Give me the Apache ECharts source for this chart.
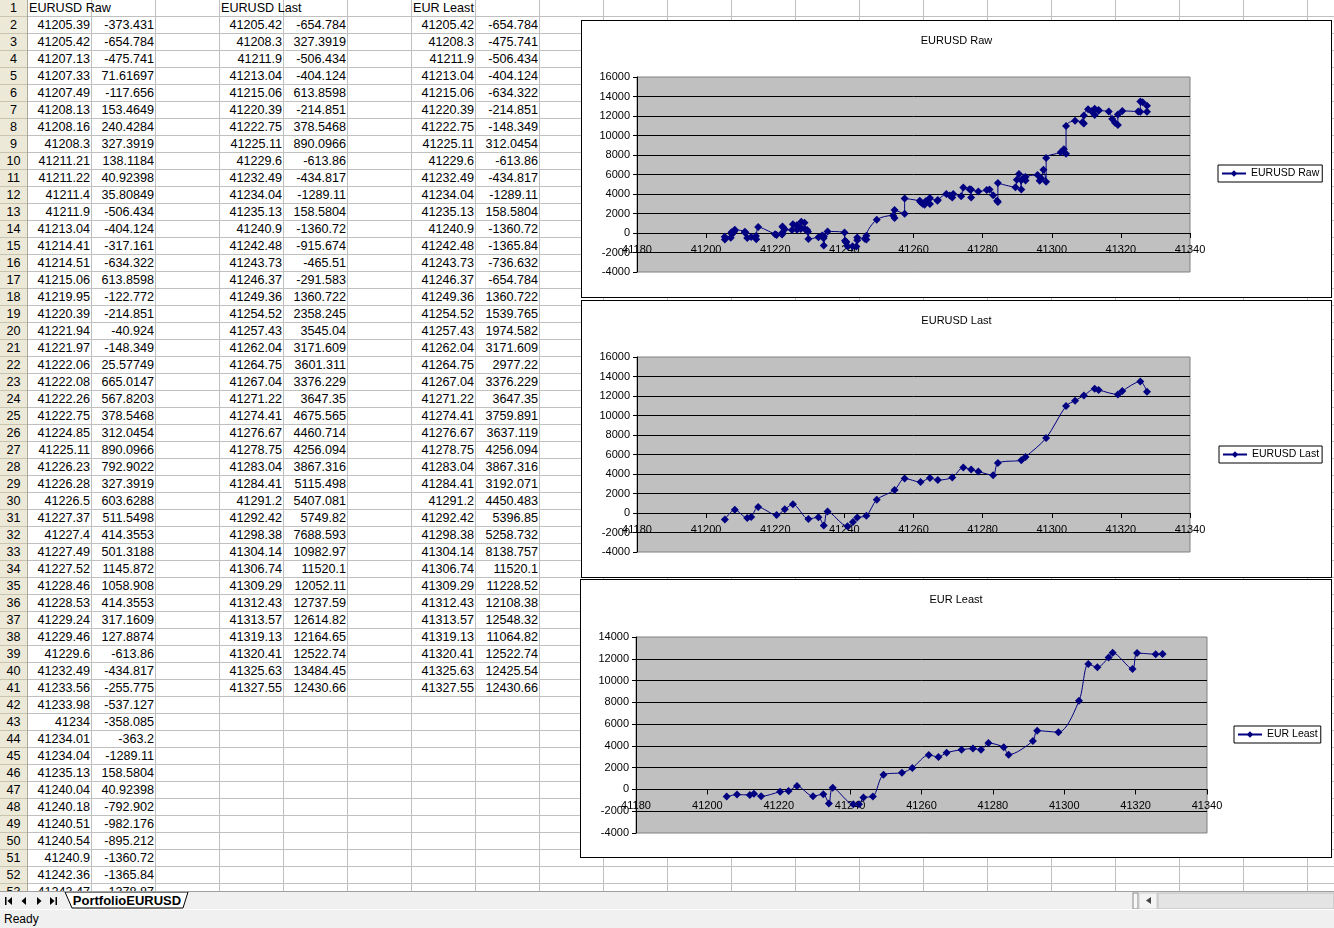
<!DOCTYPE html>
<html>
<head>
<meta charset="utf-8">
<script src="https://cdn.jsdelivr.net/npm/echarts@6.0.0/dist/echarts.min.js"></script>
<style>
  html, body { margin:0; padding:0; width:1334px; height:928px; overflow:hidden; background:#fff;
    font-family:'Liberation Sans', Arial, sans-serif; }
  #sheet { position:absolute; left:0; top:0; width:1334px; height:891px; overflow:hidden; }
  .vl { position:absolute; top:0; width:1px; height:891px; background:#c0c0c0; }
  .hl { position:absolute; left:0; width:1334px; height:1px; background:#c0c0c0; }
  .rh { position:absolute; left:0; width:27px; height:17px; background:#ece9d8; color:#000;
    font-size:12.6px; line-height:17px; text-align:center; }
  .cell { position:absolute; height:17px; line-height:17px; font-size:12.6px; color:#000; white-space:nowrap; }
  .num { text-align:right; width:62px; }
  .chartbox { position:absolute; background:#fff; border:1px solid #000; box-sizing:border-box; }
  .chart { position:absolute; left:0; top:0; width:100%; height:100%; }
  #tabbar { position:absolute; left:0; top:891px; width:1334px; height:18px; background:#f0f0f0; border-top:1px solid #a0a0a0; }
  #status { position:absolute; left:0; top:909px; width:1334px; height:19px; background:#f0f0f0; border-top:1px solid #fff; }
</style>
</head>
<body>
<div id="sheet"></div>
<div class="chartbox" style="left:581px;top:20px;width:751px;height:278px;"><div id="c1" class="chart"></div></div>
<div class="chartbox" style="left:581px;top:300px;width:751px;height:278px;"><div id="c2" class="chart"></div></div>
<div class="chartbox" style="left:580px;top:579px;width:752px;height:279px;"><div id="c3" class="chart"></div></div>
<div id="tabbar">
  <svg width="1334" height="18" style="position:absolute;left:0;top:0">
    <g fill="#000">
      <rect x="5" y="5" width="1.5" height="8"/><polygon points="12,5 12,13 7.5,9"/>
      <polygon points="26,5 26,13 21.5,9"/>
      <polygon points="37,5 37,13 41.5,9"/>
      <polygon points="50,5 50,13 54.5,9"/><rect x="55.5" y="5" width="1.5" height="8"/>
    </g>
    <polygon points="65,0 188,0 183,16 72,16" fill="#fff" stroke="#000" stroke-width="1"/>
    <text x="127" y="13" text-anchor="middle" font-family="Liberation Sans, Arial" font-size="13" font-weight="bold" fill="#000">PortfolioEURUSD</text>
    <rect x="1133" y="1" width="5" height="16" fill="#f7f7f7" stroke="#888"/>
    <rect x="1139" y="1" width="18" height="16" fill="#f4f4f4" stroke="#ccc"/>
    <polygon points="1151,5 1151,12 1146,8.5" fill="#444"/>
    <rect x="1158" y="1" width="176" height="16" fill="#e4e4e4" stroke="#bbb"/>
  </svg>
</div>
<div id="status"><span style="position:absolute;left:4px;top:2px;font-size:12px;color:#000;">Ready</span></div>

<script>
// ---------------- DATA ----------------
const rawX = [41205.39,41205.42,41207.13,41207.33,41207.49,41208.13,41208.16,41208.3,41211.21,41211.22,
  41211.4,41211.9,41213.04,41214.41,41214.51,41215.06,41219.95,41220.39,41221.94,41221.97,
  41222.06,41222.08,41222.26,41222.75,41224.85,41225.11,41226.23,41226.28,41226.5,41227.37,
  41227.4,41227.49,41227.52,41228.46,41228.53,41229.24,41229.46,41229.6,41232.49,41233.56,
  41233.98,41234,41234.01,41234.04,41235.13,41240.04,41240.18,41240.51,41240.54,41240.9,
  41242.36,41243.47,
  41243.73,41243.73,41245.9,41246.37,41246.37,41249.36,41254.1,41254.52,41254.52,41257.43,
  41257.43,41261.8,41262.04,41262.6,41263.2,41263.5,41264.3,41264.75,41264.75,41266.9,
  41267.04,41269.5,41270.5,41271.22,41271.5,41273.8,41274.41,41276.2,41276.67,41276.67,
  41278.75,41281.2,41282,41283.04,41284.2,41284.41,41284.41,41289.5,41289.9,41290.5,
  41291.2,41291.2,41292,41292.42,41292.42,41295.9,41296.5,41297,41297.6,41298.38,
  41298.38,41302.6,41303.5,41304.14,41304.14,41306.74,41308.9,41309.29,41309.29,41310.5,
  41311.5,41312.43,41312.43,41313.57,41313.57,41316.5,41317.5,41318.3,41319.13,41319.13,
  41320.41,41325,41325.63,41325.63,41326.3,41327.55,41327.55];
const rawY = [-373.431,-654.784,-475.741,71.61697,-117.656,153.4649,240.4284,327.3919,138.1184,40.92398,
  35.80849,-506.434,-404.124,-317.161,-634.322,613.8598,-122.772,-214.851,-40.924,-148.349,
  25.57749,665.0147,567.8203,378.5468,312.0454,890.0966,792.9022,327.3919,603.6288,511.5498,
  414.3553,501.3188,1145.872,1058.908,414.3553,317.1609,127.8874,-613.86,-434.817,-255.775,
  -537.127,-358.085,-363.2,-1289.11,158.5804,40.92398,-792.902,-982.176,-895.212,-1360.72,
  -1365.84,-1378.87,
  -736.632,-465.51,-600,-654.784,-291.583,1360.722,1800,1539.765,2358.245,1974.582,
  3545.04,3300,3171.609,3000,2900,3250,3400,2977.22,3601.311,3300,
  3376.229,4000,3850,3647.35,4000,3759.891,4675.565,4500,3637.119,4460.714,
  4256.094,4400,4450,3867.316,3300,3192.071,5115.498,4700,5450,6050,
  4450.483,5407.081,5700,5396.85,5749.82,5950,5360,5600,6500,5258.732,
  7688.593,8280,8600,8138.757,10982.97,11520.1,11360,11228.52,12052.11,12700,
  12500,12108.38,12737.59,12548.32,12614.82,12450,11700,11300,11064.82,12164.65,
  12522.74,12450,12425.54,13484.45,13400,13060,12430.66];

const lastX = [41205.42,41208.3,41211.9,41213.04,41215.06,41220.39,41222.75,41225.11,41229.6,41232.49,
  41234.04,41235.13,41240.9,41242.48,41243.73,41246.37,41249.36,41254.52,41257.43,41262.04,
  41264.75,41267.04,41271.22,41274.41,41276.67,41278.75,41283.04,41284.41,41291.2,41292.42,
  41298.38,41304.14,41306.74,41309.29,41312.43,41313.57,41319.13,41320.41,41325.63,41327.55];
const lastY = [-654.784,327.3919,-506.434,-404.124,613.8598,-214.851,378.5468,890.0966,-613.86,-434.817,
  -1289.11,158.5804,-1360.72,-915.674,-465.51,-291.583,1360.722,2358.245,3545.04,3171.609,
  3601.311,3376.229,3647.35,4675.565,4460.714,4256.094,3867.316,5115.498,5407.081,5749.82,
  7688.593,10982.97,11520.1,12052.11,12737.59,12614.82,12164.65,12522.74,13484.45,12430.66];

const leastX = lastX.slice();
const leastY = [-654.784,-475.741,-506.434,-404.124,-634.322,-214.851,-148.349,312.0454,-613.86,-434.817,
  -1289.11,158.5804,-1360.72,-1365.84,-736.632,-654.784,1360.722,1539.765,1974.582,3171.609,
  2977.22,3376.229,3647.35,3759.891,3637.119,4256.094,3867.316,3192.071,4450.483,5396.85,
  5258.732,8138.757,11520.1,11228.52,12108.38,12548.32,11064.82,12522.74,12425.54,12430.66];

const headers = ['EURUSD Raw', 'EURUSD Last', 'EUR Least'];
const xTicks = {min:41180, max:41340, step:20};
const yMin = -4000, yStep = 2000;

// ---------------- SPREADSHEET ----------------
const sheet = document.getElementById('sheet');
const ROWH = 17, COL0 = 27, COLW = 64, NROWS = 53;
function add(cls, style, text) {
  const d = document.createElement('div');
  d.className = cls;
  Object.assign(d.style, style);
  if (text !== undefined) d.textContent = text;
  sheet.appendChild(d);
  return d;
}
for (let k = 0; COL0 + COLW * k < 1334; k++) add('vl', {left: (COL0 + COLW * k) + 'px'});
for (let r = 1; r <= NROWS; r++) add('hl', {top: (ROWH * r - 1) + 'px'});
for (let r = 1; r <= NROWS; r++) {
  const d = add('rh', {top: (ROWH * (r - 1)) + 'px', height: (ROWH - 1) + 'px', lineHeight: (ROWH - 1) + 'px'}, String(r));
  d.style.borderBottom = '1px solid #c8c4b0';
}
add('vl', {left: '27px', background: '#aca899'});
function colLeft(c) { return COL0 + 1 + COLW * c; }
[0, 3, 6].forEach((c, i) => add('cell', {left: (colLeft(c) + 1) + 'px', top: '0px'}, headers[i]));
function numCell(c, r, v) {
  add('cell num', {left: colLeft(c) + 'px', top: (ROWH * (r - 1)) + 'px'}, String(v));
}
for (let i = 0; i < NROWS - 1 && i < rawX.length; i++) {
  numCell(0, i + 2, rawX[i]); numCell(1, i + 2, rawY[i]);
}
for (let i = 0; i < lastX.length; i++) {
  numCell(3, i + 2, lastX[i]); numCell(4, i + 2, lastY[i]);
  numCell(6, i + 2, leastX[i]); numCell(7, i + 2, leastY[i]);
}

// ---------------- CHARTS ----------------
const FONT = "'Liberation Sans', Arial, sans-serif";
const NAVY = '#000080';
function pairs(xs, ys) { return xs.map((x, i) => [x, ys[i]]); }
function plain(v) { return String(v); }
function makeOption(name, xs, ys, grid, yMax, legendPos) {
  // x axis crosses the value axis at 0, as in the original
  const zeroOffset = -grid.height * (0 - yMin) / (yMax - yMin);
  return {
    animation: false,
    textStyle: {fontFamily: FONT},
    title: {text: name, left: 'center', top: 9,
      textStyle: {fontFamily: FONT, fontSize: 11, fontWeight: 'normal', color: '#000'}},
    legend: {left: legendPos[0], top: legendPos[1], orient: 'vertical',
      backgroundColor: '#fff', borderColor: '#000', borderWidth: 1, borderRadius: 0,
      padding: [3, 3, 3, 3], itemWidth: 24, itemHeight: 8, itemGap: 4,
      textStyle: {fontFamily: FONT, fontSize: 10.5, color: '#000'}},
    grid: Object.assign({show: true, backgroundColor: '#c0c0c0', borderColor: '#808080', borderWidth: 1,
      containLabel: false}, grid),
    xAxis: {type: 'value', min: xTicks.min, max: xTicks.max, interval: xTicks.step,
      position: 'bottom', offset: zeroOffset,
      axisLine: {show: true, onZero: false, lineStyle: {color: '#000', width: 1}},
      axisTick: {show: true, length: 5, lineStyle: {color: '#000'}},
      axisLabel: {color: '#000', fontFamily: FONT, fontSize: 11, margin: 11, formatter: plain,
        showMinLabel: true, showMaxLabel: true, hideOverlap: false},
      splitLine: {show: false}},
    yAxis: {type: 'value', min: yMin, max: yMax, interval: yStep,
      axisLine: {show: true, onZero: false, lineStyle: {color: '#000', width: 1}},
      axisTick: {show: true, length: 4, lineStyle: {color: '#000'}},
      axisLabel: {color: '#000', fontFamily: FONT, fontSize: 11, margin: 7, formatter: plain},
      splitLine: {show: true, showMinLine: false, showMaxLine: false, lineStyle: {color: '#000', width: 1}}},
    series: [{type: 'line', name: name, data: pairs(xs, ys), symbol: 'diamond', symbolSize: 8,
      smooth: 0.3, lineStyle: {color: NAVY, width: 1}, itemStyle: {color: NAVY},
      emphasis: {disabled: true}}]
  };
}
const g12 = {left: 55, top: 56, width: 553, height: 195};
echarts.init(document.getElementById('c1'), null, {renderer: 'canvas'})
  .setOption(makeOption(headers[0], rawX, rawY, g12, 16000, [636, 144]));
echarts.init(document.getElementById('c2'), null, {renderer: 'canvas'})
  .setOption(makeOption(headers[1], lastX, lastY, g12, 16000, [637, 145]));
echarts.init(document.getElementById('c3'), null, {renderer: 'canvas'})
  .setOption(makeOption(headers[2], leastX, leastY, {left: 55, top: 57, width: 571, height: 196}, 14000, [653, 146]));
</script>
</body>
</html>
